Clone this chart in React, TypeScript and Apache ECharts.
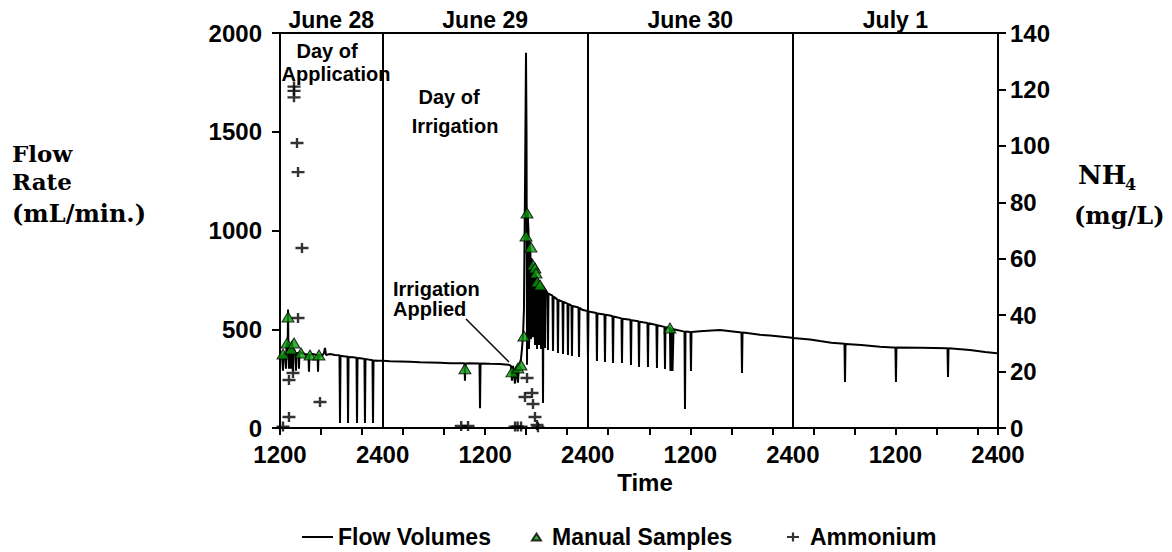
import React, { useEffect, useRef } from "react";
import * as echarts from "echarts";

// x value = hours elapsed since 12:00 on June 28
const xLabelHours = [0, 12, 24, 36, 48, 60, 72, 84];
const xLabels = ["1200", "2400", "1200", "2400", "1200", "2400", "1200", "2400"];
const dayLabelHours = [6, 24, 48, 72];
const dayLabels = ["June 28", "June 29", "June 30", "July 1"];
const midnightHours = [12, 36, 60];

const flowTime = [
  0, 0.23, 0.3, 0.35, 0.41, 0.58, 0.65, 0.7, 0.76, 0.82,
  0.9, 0.94, 0.99, 1.05, 1.11, 1.17, 1.23, 1.29, 1.35, 1.4,
  1.46, 1.52, 1.58, 1.64, 1.8, 1.87, 1.93, 1.99, 2.16, 2.22,
  2.28, 2.34, 2.57, 2.92, 3.16, 3.33, 3.39, 3.45, 3.86, 4.21,
  4.39, 4.45, 4.51, 4.91, 5.15, 5.26, 5.38, 5.85, 6.43, 6.96,
  7.02, 7.08, 7.6, 7.9, 7.96, 8.02, 8.54, 8.95, 9.01, 9.07,
  9.59, 9.88, 9.94, 10, 10.53, 10.82, 10.88, 10.94, 11.46, 12.05,
  12.87, 14.04, 15.21, 16.38, 17.55, 18.72, 19.89, 21.06, 21.58, 21.64,
  21.7, 22.23, 23.34, 23.4, 23.46, 24.57, 25.74, 26.32, 26.79, 27.02,
  27.14, 27.26, 27.49, 27.61, 27.84, 27.96, 28.08, 28.19, 28.31, 28.43,
  28.54, 28.66, 28.78, 28.84, 28.9, 28.96, 29.07, 29.13, 29.19, 29.3,
  29.36, 29.42, 29.54, 29.6, 29.66, 29.78, 29.83, 29.89, 30.01, 30.07,
  30.13, 30.24, 30.3, 30.36, 30.48, 30.54, 30.6, 30.71, 30.77, 30.83,
  30.95, 31, 31.06, 31.29, 31.35, 31.41, 31.88, 31.94, 32, 32.46,
  32.52, 32.58, 33.05, 33.11, 33.17, 33.63, 33.69, 33.75, 34.1, 34.16,
  34.22, 34.92, 34.98, 35.04, 35.45, 35.97, 36.03, 36.09, 37.02, 37.08,
  37.14, 37.96, 38.02, 38.08, 38.61, 38.9, 38.96, 39.02, 39.95, 40.01,
  40.07, 41, 41.06, 41.12, 41.94, 42, 42.06, 42.47, 42.99, 43.05,
  43.11, 44.04, 44.1, 44.16, 44.98, 45.04, 45.1, 45.62, 45.68, 45.8,
  45.92, 46.04, 47.32, 47.38, 47.44, 48.02, 48.08, 48.14, 49.13, 51.47,
  53.99, 54.05, 54.11, 54.63, 56.15, 57.32, 59.66, 60.01, 61, 62,
  63.17, 64.5, 66.04, 66.1, 66.16, 68, 70.19, 71.71, 72, 72.06,
  72.12, 74.87, 76.5, 78.09, 78.15, 78.21, 80.72, 82.48, 83.88,
];
const flowRate = [
  370, 365, 365, 290, 380, 375, 375, 300, 420, 430,
  420, 600, 380, 300, 400, 420, 400, 300, 420, 440,
  400, 290, 390, 400, 380, 290, 380, 380, 380, 300,
  385, 385, 380, 375, 372, 370, 285, 370, 375, 370,
  370, 285, 370, 365, 380, 405, 370, 375, 370, 368,
  25, 366, 362, 362, 25, 360, 358, 356, 25, 355,
  352, 350, 25, 350, 345, 343, 25, 342, 340, 340,
  338, 337, 335, 333, 332, 330, 328, 328, 328, 240,
  327, 328, 326, 100, 326, 325, 324, 322, 320, 315,
  240, 315, 225, 310, 230, 320, 330, 350, 400, 470,
  600, 1200, 1900, 1500, 320, 1100, 1000, 400, 950, 880,
  450, 860, 820, 460, 810, 790, 420, 780, 760, 400,
  755, 740, 420, 735, 728, 400, 725, 720, 127, 715,
  705, 405, 700, 685, 395, 680, 670, 390, 665, 650,
  380, 648, 640, 375, 638, 630, 370, 628, 620, 365,
  618, 610, 360, 608, 597, 592, 350, 590, 582, 339,
  580, 575, 334, 573, 570, 566, 329, 565, 555, 329,
  553, 548, 319, 546, 540, 309, 538, 535, 532, 309,
  530, 522, 304, 520, 512, 299, 510, 506, 289, 505,
  289, 500, 488, 96, 488, 486, 289, 486, 490, 496,
  484, 278, 483, 481, 472, 468, 458, 456, 452, 448,
  440, 432, 426, 233, 425, 420, 412, 408, 407, 233,
  407, 406, 405, 404, 258, 404, 395, 385, 378,
];

const sampleTime = [0.35, 0.82, 0.94, 1.29, 1.64, 2.46, 3.51, 4.56, 21.64, 27.14, 27.84, 28.19, 28.54, 28.78, 28.9, 29.36, 29.6, 29.83, 29.95, 30.07, 30.42, 45.62];
const sampleFlow = [375, 430, 562, 400, 430, 380, 370, 370, 300, 284, 304, 319, 466, 972, 1089, 916, 825, 810, 785, 739, 724, 506];

const ammoniumTime = [0.35, 1.05, 1.05, 1.52, 1.64, 1.64, 1.64, 1.99, 2.11, 2.57, 2.11, 4.68, 21.2, 22.0, 27.5, 27.8, 28.2, 28.66, 28.9, 29.48, 29.6, 29.83, 30.07, 30.18];
const ammoniumConc = [0.5, 3.9, 17, 19.5, 121, 119.5, 117.2, 101, 90.7, 63.8, 39, 9.2, 0.7, 0.7, 0.5, 0.5, 0.5, 11, 17.7, 12.4, 8.5, 3.9, 1.1, 0.3];

const SANS = '"Liberation Sans", Arial, sans-serif';
const SERIF = '"DejaVu Serif", serif';
const PLUS = "path://M5.3,0 L7.7,0 L7.7,3.8 L13,3.8 L13,6.2 L7.7,6.2 L7.7,10 L5.3,10 L5.3,6.2 L0,6.2 L0,3.8 L5.3,3.8 Z";

export default function App() {
  const ref = useRef<HTMLDivElement>(null);
  useEffect(() => {
    if (!ref.current) return;
    const chart = echarts.init(ref.current, undefined, { renderer: "svg" });
    const axisText = { fontFamily: SANS, fontWeight: "bold" as const, fontSize: 24, color: "#000", lineHeight: 24 };
    const legendText = { fontFamily: SANS, fontWeight: "bold" as const, fontSize: 23, color: "#000", lineHeight: 24 };
    const blackLine = { lineStyle: { color: "#000", width: 2 } };
    const serifText = (text: string, x: number, y: number, size = 24) => ({
      type: "text", x, y,
      style: { text, font: `bold ${size}px ${SERIF}`, fill: "#000", align: "left", verticalAlign: "middle" },
    });
    const sansText = (text: string, x: number, y: number, align = "center") => ({
      type: "text", x, y,
      style: { text, font: `bold 20px ${SANS}`, fill: "#000", align, verticalAlign: "middle" },
    });
    chart.setOption({
      animation: false,
      backgroundColor: "#fff",
      textStyle: { fontFamily: SANS },
      grid: { left: 280, right: 174, top: 33, bottom: 124, containLabel: false },
      xAxis: [
        {
          type: "value", position: "bottom", min: 0, max: 84, interval: 4.8,
          axisLine: { show: true, ...blackLine, onZero: false },
          axisTick: { show: true, length: 7, ...blackLine },
          axisLabel: { show: false },
          splitLine: { show: false },
        },
        {
          type: "value", position: "bottom", min: 0, max: 84, interval: 12,
          axisLine: { show: false }, axisTick: { show: false }, splitLine: { show: false },
          axisLabel: {
            ...axisText, margin: 14, showMaxLabel: true, showMinLabel: true,
            formatter: (v: number) => { const i = xLabelHours.indexOf(Math.round(v)); return i >= 0 ? xLabels[i] : ""; },
          },
          name: "Time", nameLocation: "middle", nameGap: 40,
          nameTextStyle: { ...axisText, padding: [0, 0, 0, 12] },
        },
        {
          type: "value", position: "top", min: 0, max: 84, interval: 6,
          axisLine: { show: true, ...blackLine, onZero: false }, axisTick: { show: false }, splitLine: { show: false },
          axisLabel: {
            ...axisText, fontSize: 23, margin: 1,
            formatter: (v: number) => { const i = dayLabelHours.indexOf(Math.round(v)); return i >= 0 ? dayLabels[i] : ""; },
          },
        },
      ],
      yAxis: [
        {
          type: "value", position: "left", min: 0, max: 2000, interval: 500,
          axisLine: { show: true, ...blackLine, onZero: false },
          axisTick: { show: true, length: 8, ...blackLine },
          axisLabel: { ...axisText, margin: 18, formatter: (v: number) => String(v) },
          splitLine: { show: false },
        },
        {
          type: "value", position: "right", min: 0, max: 140, interval: 20,
          axisLine: { show: true, ...blackLine, onZero: false },
          axisTick: { show: true, length: 8, ...blackLine },
          axisLabel: { ...axisText, margin: 12, formatter: (v: number) => String(v) },
          splitLine: { show: false },
        },
      ],
      legend: [
        {
          data: [{ name: "Flow Volumes", icon: "rect" }], left: 302, top: 525, padding: 0,
          itemWidth: 31, itemHeight: 2, textStyle: legendText,
        },
        {
          data: [{ name: "Manual Samples", icon: "triangle" }], left: 531, top: 525, padding: 0,
          itemWidth: 9, itemHeight: 7, textStyle: { ...legendText, padding: [0, 0, 0, 6] },
        },
        {
          data: [{ name: "Ammonium", icon: PLUS }], left: 787, top: 525, padding: 0,
          itemWidth: 12, itemHeight: 10, textStyle: { ...legendText, padding: [0, 0, 0, 6] },
        },
      ],
      series: [
        {
          name: "Flow Volumes", type: "line", xAxisIndex: 0, yAxisIndex: 0,
          data: flowTime.map((t, i) => [t, flowRate[i]]),
          showSymbol: false, symbol: "none",
          lineStyle: { color: "#000", width: 2 }, itemStyle: { color: "#000" },
          z: 2,
          markLine: {
            silent: true, symbol: "none", label: { show: false },
            lineStyle: { color: "#000", width: 2, type: "solid" },
            data: midnightHours.map((h) => ({ xAxis: h })),
          },
        },
        {
          name: "Manual Samples", type: "scatter", xAxisIndex: 0, yAxisIndex: 0,
          data: sampleTime.map((t, i) => [t, sampleFlow[i]]),
          symbol: "triangle", symbolSize: [12, 10],
          itemStyle: { color: "#0b9a0b", borderColor: "#000", borderWidth: 1 },
          z: 4,
        },
        {
          name: "Ammonium", type: "scatter", xAxisIndex: 0, yAxisIndex: 1,
          data: ammoniumTime.map((t, i) => [t, ammoniumConc[i]]),
          symbol: PLUS, symbolSize: [13, 10],
          itemStyle: { color: "#000" },
          z: 3,
        },
      ],
      graphic: [
        serifText("Flow", 12, 153, 23),
        serifText("Rate", 12, 181, 23),
        serifText("(mL/min.)", 12, 213),
        serifText("NH", 1078, 175, 26),
        serifText("4", 1125, 184, 16),
        serifText("(mg/L)", 1074, 215),
        sansText("Day of", 327, 51),
        sansText("Application", 336, 74),
        sansText("Day of", 449, 97),
        sansText("Irrigation", 455, 126),
        sansText("Irrigation", 393, 289, "left"),
        sansText("Applied", 393, 309, "left"),
        { type: "line", shape: { x1: 466, y1: 319, x2: 509, y2: 362 }, style: { stroke: "#000", lineWidth: 1.5 } },
      ],
    });
    return () => chart.dispose();
  }, []);
  return (
    <div
      ref={ref}
      style={{ position: "fixed", left: 0, top: 0, width: 1172, height: 552, background: "#fff" }}
    />
  );
}
